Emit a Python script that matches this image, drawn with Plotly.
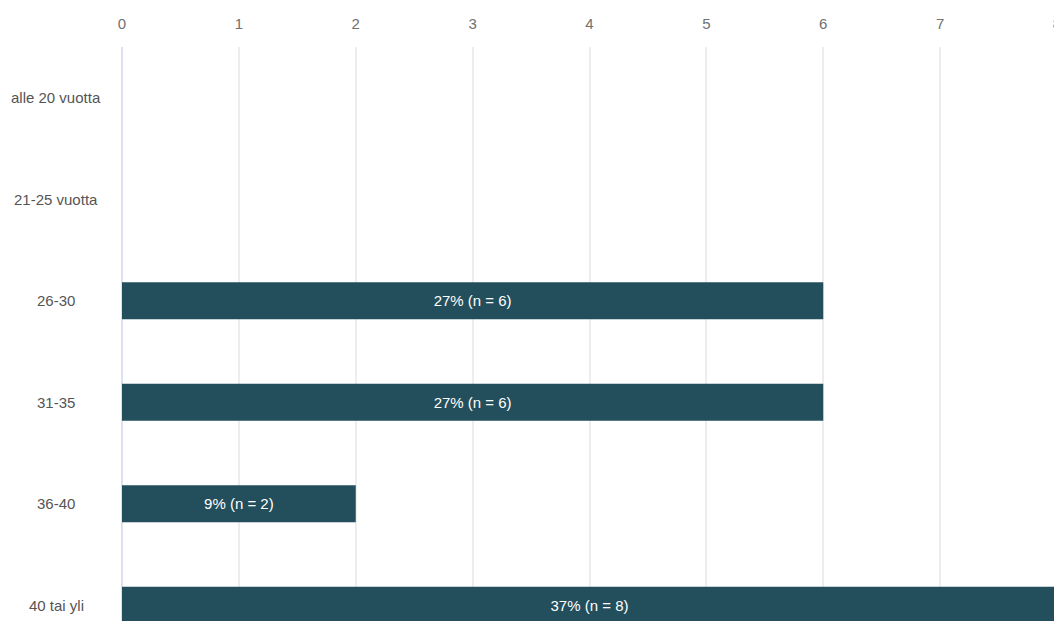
import plotly.graph_objects as go

categories = ["alle 20 vuotta", "21-25 vuotta", "26-30", "31-35", "36-40", "40 tai yli"]
counts = [0, 0, 6, 6, 2, 8]
percents = [0, 0, 27, 27, 9, 37]
x_ticks = [0, 1, 2, 3, 4, 5, 6, 7, 8]

labels = [f"{p}% (n = {c})" if c > 0 else "" for p, c in zip(percents, counts)]

W, H = 1067, 656
ML, MR, MT, MB = 122, 10, 47, 0
plot_w = W - ML - MR

fig = go.Figure()
fig.add_trace(go.Bar(
    x=counts,
    y=categories,
    orientation="h",
    marker=dict(color="#234e5c", line=dict(width=0)),
    text=labels,
    textposition="inside",
    insidetextanchor="middle",
    textfont=dict(color="#ffffff", size=15, family="Liberation Sans, Arial, sans-serif"),
    constraintext="none",
    cliponaxis=True,
    hoverinfo="skip",
))

for cat in categories:
    fig.add_annotation(
        x=(56 - ML) / plot_w, xref="paper",
        y=cat, yref="y",
        text=cat, showarrow=False,
        xanchor="center", yanchor="middle",
        font=dict(size=15, color="#555555", family="Liberation Sans, Arial, sans-serif"),
    )

fig.update_layout(
    width=W, height=H,
    margin=dict(l=ML, r=MR, t=MT, b=MB, pad=0),
    paper_bgcolor="#ffffff",
    plot_bgcolor="#ffffff",
    bargap=0.635,
    showlegend=False,
    font=dict(family="Liberation Sans, Arial, sans-serif"),
    xaxis=dict(
        side="top",
        range=[0, 8],
        tickvals=x_ticks,
        ticktext=[str(t) for t in x_ticks],
        showgrid=True,
        gridcolor="#ededf0",
        gridwidth=1.5,
        zeroline=True,
        zerolinecolor="#dde1ee",
        zerolinewidth=2,
        showline=False,
        ticks="",
        ticklabelstandoff=14,
        tickfont=dict(size=15, color="#707070"),
    ),
    yaxis=dict(
        type="category",
        categoryorder="array",
        categoryarray=categories,
        range=[5.5, -0.5],
        showticklabels=False,
        showgrid=False,
        zeroline=False,
        showline=False,
        ticks="",
    ),
)

fig.write_html(
    "out.html",
    config={"displayModeBar": False},
    post_script="document.body.style.margin='0';document.body.style.overflow='hidden';document.documentElement.style.overflow='hidden';",
)
